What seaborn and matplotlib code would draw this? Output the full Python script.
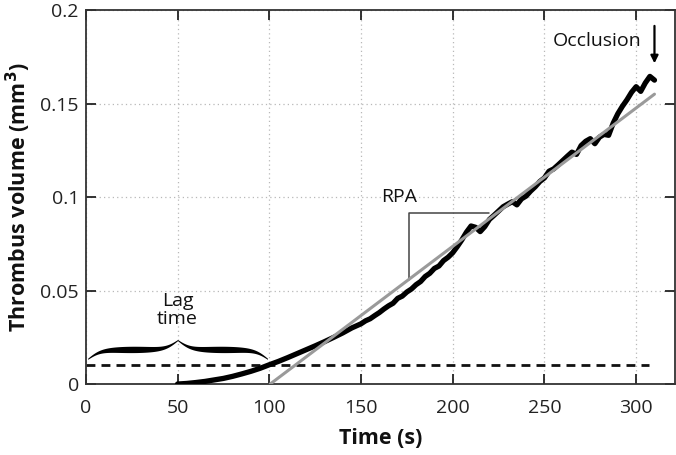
import numpy as np
import pandas as pd
import matplotlib
matplotlib.use("Agg")
import matplotlib.pyplot as plt
import seaborn as sns

# thrombus volume (s, mm^3)
time_s = [50, 55, 60, 65, 70, 75, 80, 85, 90, 95, 100, 105, 110, 115, 120, 125,
          130, 135, 140, 145, 150, 152.5, 155, 157.5, 160, 162.5, 165, 167.5,
          170, 172.5, 175, 177.5, 180, 182.5, 185, 187.5, 190, 192.5, 195,
          197.5, 200, 202.5, 205, 207.5, 210, 212.5, 215, 217.5, 220, 222.5,
          225, 227.5, 230, 232.5, 235, 237.5, 240, 242.5, 245, 247.5, 250,
          252.5, 255, 257.5, 260, 262.5, 265, 267.5, 270, 272.5, 275, 277.5,
          280, 282.5, 285, 287.5, 290, 292.5, 295, 297.5, 300, 302.5, 305,
          307.5, 310]
volume = [0.0, 0.0003, 0.0008, 0.0014, 0.0022, 0.0030, 0.0041, 0.0054, 0.0068,
          0.0084, 0.0103, 0.0121, 0.0141, 0.0162, 0.0183, 0.0204, 0.0226,
          0.0249, 0.0273, 0.0300, 0.0322, 0.0338, 0.0349, 0.0366, 0.0382,
          0.0401, 0.0418, 0.0432, 0.0458, 0.0470, 0.0492, 0.0508, 0.0531,
          0.0548, 0.0575, 0.0592, 0.0618, 0.0631, 0.0660, 0.0678, 0.0702,
          0.0735, 0.0771, 0.0812, 0.0845, 0.0838, 0.0815, 0.0842, 0.0880,
          0.0902, 0.0925, 0.0948, 0.0962, 0.0975, 0.0958, 0.0990, 0.1005,
          0.1032, 0.1055, 0.1083, 0.1102, 0.1138, 0.1150, 0.1172, 0.1195,
          0.1218, 0.1240, 0.1228, 0.1275, 0.1298, 0.1312, 0.1285, 0.1320,
          0.1335, 0.1330, 0.1395, 0.1445, 0.1485, 0.1520, 0.1560, 0.1590,
          0.1565, 0.1610, 0.1645, 0.1625]

# linear fit (RPA) and threshold line
fit_t = [100.5, 310]
fit_v = [0.0, 0.155]
thresh_t = [0, 307]
thresh_v = [0.01, 0.01]

x_ticks = [0, 50, 100, 150, 200, 250, 300]
y_ticks = [0, 0.05, 0.1, 0.15, 0.2]
y_ticklabels = ["0", "0.05", "0.1", "0.15", "0.2"]

sns.set_theme(style="ticks")
plt.rcParams["font.family"] = ["Open Sans", "DejaVu Sans"]

fig = plt.figure(figsize=(6.76, 4.55), dpi=100)
ax = fig.add_axes([0.127, 0.156, 0.871, 0.822])

ax.grid(True, color="#b8b8b8", linestyle=(0, (1, 2.5)), linewidth=0.9)
ax.set_axisbelow(True)

trace = pd.DataFrame({"t": time_s, "v": volume})
fit = pd.DataFrame({"t": fit_t, "v": fit_v})
thr = pd.DataFrame({"t": thresh_t, "v": thresh_v})

sns.lineplot(data=thr, x="t", y="v", ax=ax, color="#111111", lw=2.0,
             dashes=False, zorder=2)
ax.lines[-1].set_dashes((3.2, 2.2))
sns.lineplot(data=trace, x="t", y="v", ax=ax, color="black", lw=3.8,
             sort=False, zorder=3)
sns.lineplot(data=fit, x="t", y="v", ax=ax, color="#9a9a9a", lw=2.2, zorder=4)

# RPA slope triangle
slope = (fit_v[1] - fit_v[0]) / (fit_t[1] - fit_t[0])
tx = 176
ax.plot([tx, tx, 220], [fit_v[0] + slope * (tx - fit_t[0]), 0.0915, 0.0915],
        color="#444444", lw=1.1, zorder=2)
ax.text(171, 0.1, "RPA", ha="center", va="center", fontsize=14, color="#111111")

# lag-time brace
def brace(ax, x0, x1, ybase, h):
    half = np.linspace(0, 1, 200)
    beta = 14
    yh = 1 / (1 + np.exp(-beta * (half - 0))) + 1 / (1 + np.exp(-beta * (half - 1)))
    yh = yh - yh.min()
    yh = yh / yh.max()
    xs = np.concatenate([x0 + half * (x1 - x0) / 2, x0 + (x1 - x0) / 2 + half[1:] * (x1 - x0) / 2])
    ys = np.concatenate([yh, yh[::-1][1:]])
    ys = ybase + ys * h
    w = np.concatenate([np.sin(np.pi * half), np.sin(np.pi * half[1:])]) * 0.0014 + 0.0003
    ax.fill_between(xs, ys - w, ys + w, color="black", lw=0, zorder=3)

brace(ax, 1, 99, 0.0135, 0.0100)
ax.text(50, 0.0395, "Lag\ntime", ha="center", va="center", fontsize=14,
        linespacing=1.0, color="#111111")

# occlusion marker
ax.annotate("", xy=(310, 0.1715), xytext=(310, 0.1915),
            arrowprops=dict(arrowstyle="-|>", color="black", lw=1.6,
                            mutation_scale=11, shrinkA=0, shrinkB=0))
ax.text(279, 0.1835, "Occlusion", ha="center", va="center", fontsize=14,
        color="#111111")

ax.set_xlim(0, 321)
ax.set_ylim(0, 0.2)
ax.set_xticks(x_ticks)
ax.set_yticks(y_ticks)
ax.set_yticklabels(y_ticklabels)
ax.tick_params(direction="in", length=7, width=1.3, top=True, right=True,
               labelsize=14, colors="#222222")
ax.tick_params(axis="x", pad=11)
ax.tick_params(axis="y", pad=5)
for s in ax.spines.values():
    s.set_color("#333333")
    s.set_linewidth(1.3)

ax.set_xlabel("Time (s)", fontsize=15.5, fontweight="bold", labelpad=8,
              color="#111111")
ax.set_ylabel("Thrombus volume (mm$^\\mathbf{3}$)", fontsize=15.5,
              fontweight="bold", labelpad=5, color="#111111")

fig.savefig("out.png", dpi=100)
